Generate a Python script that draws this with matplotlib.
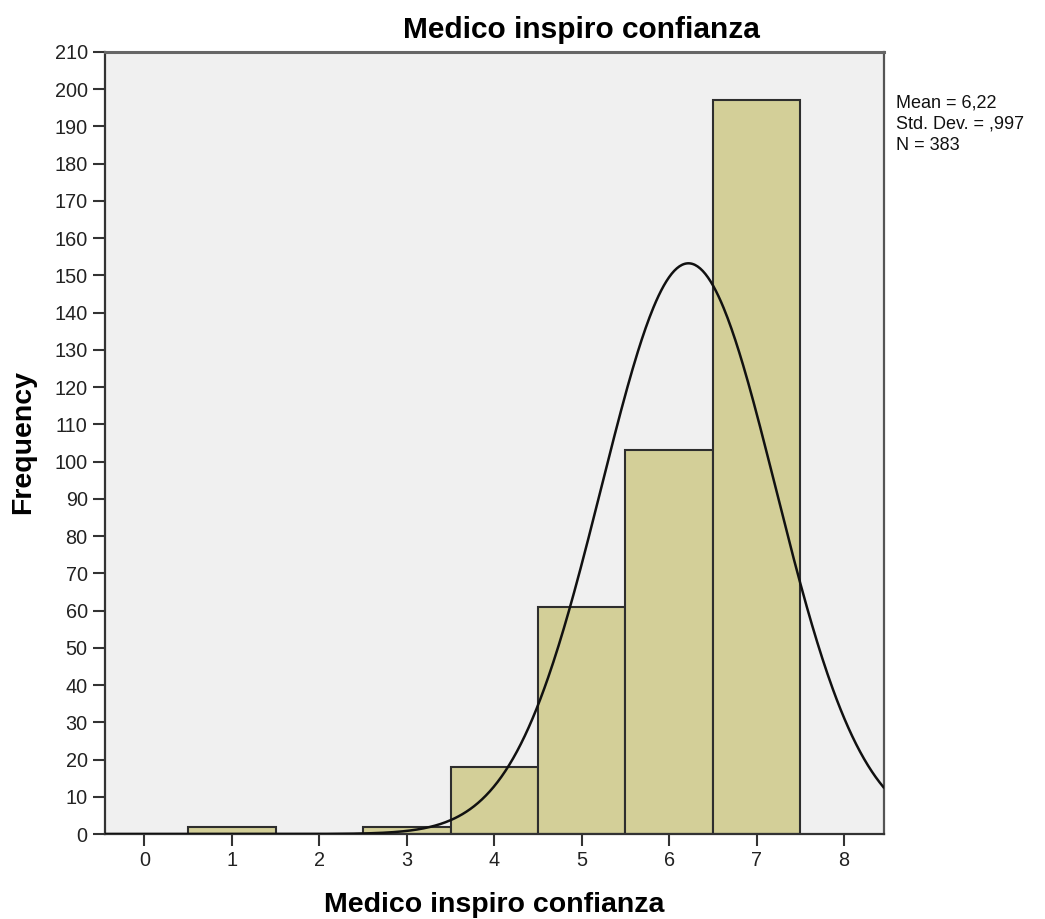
import numpy as np
import matplotlib
matplotlib.use("Agg")
import matplotlib.pyplot as plt

# Data
categories = [0, 1, 2, 3, 4, 5, 6, 7]
counts = [0, 2, 0, 2, 18, 61, 103, 197]
mean_val = 6.22
std_val = 0.997
n_val = 383
bin_width = 1.0
title_text = "Medico inspiro confianza"
xlabel_text = "Medico inspiro confianza"
ylabel_text = "Frequency"
stats_lines = ["Mean = 6,22", "Std. Dev. = ,997", "N = 383"]
xticks = list(range(0, 9))
yticks = list(range(0, 211, 10))

plt.rcParams['font.family'] = ['Liberation Sans', 'DejaVu Sans']

fig = plt.figure(figsize=(10.45, 9.19), dpi=100)
ax = fig.add_axes([105/1045, 1 - 834/919, (883.5 - 105)/1045, (834 - 52)/919])
ax.set_facecolor('#F0F0F0')

ax.bar(categories, counts, width=bin_width, color='#D3CF98', edgecolor='#2e2e2e',
       linewidth=1.5, zorder=2)

xs = np.linspace(-0.45, 8.45, 600)
ys = n_val * bin_width / (std_val * np.sqrt(2 * np.pi)) * np.exp(-0.5 * ((xs - mean_val) / std_val) ** 2)
ax.plot(xs, ys, color='#111111', linewidth=1.8, zorder=3)

ax.set_xlim(-0.45, 8.45)
ax.set_ylim(0, 210)
ax.set_xticks(xticks)
ax.set_yticks(yticks)
ax.tick_params(direction='out', length=8.5, width=1.5, color='#333333',
               labelsize=14.3, labelcolor='#222222', pad=4)
for sp in ax.spines.values():
    sp.set_color('#333333')
    sp.set_linewidth(1.6)
ax.spines['top'].set_color('#666666')
ax.spines['top'].set_linewidth(2.2)
ax.spines['right'].set_color('#555555')

# Axis labels placed in figure coordinates
fig.text(494/1045, 1 - 905/919, xlabel_text, fontsize=20.5, fontweight='bold',
         ha='center', va='center')
fig.text(23/1045, 1 - 442/919, ylabel_text, fontsize=20.5, fontweight='bold',
         ha='center', va='center', rotation=90)

fig.text(581/1045, 1 - 30/919, title_text, fontsize=21.5, fontweight='bold',
         ha='center', va='center')

fig.text(896/1045, 1 - 95/919, "\n".join(stats_lines), fontsize=13,
         ha='left', va='top', linespacing=1.3, color='#111111')

fig.savefig("out.png", dpi=100)
